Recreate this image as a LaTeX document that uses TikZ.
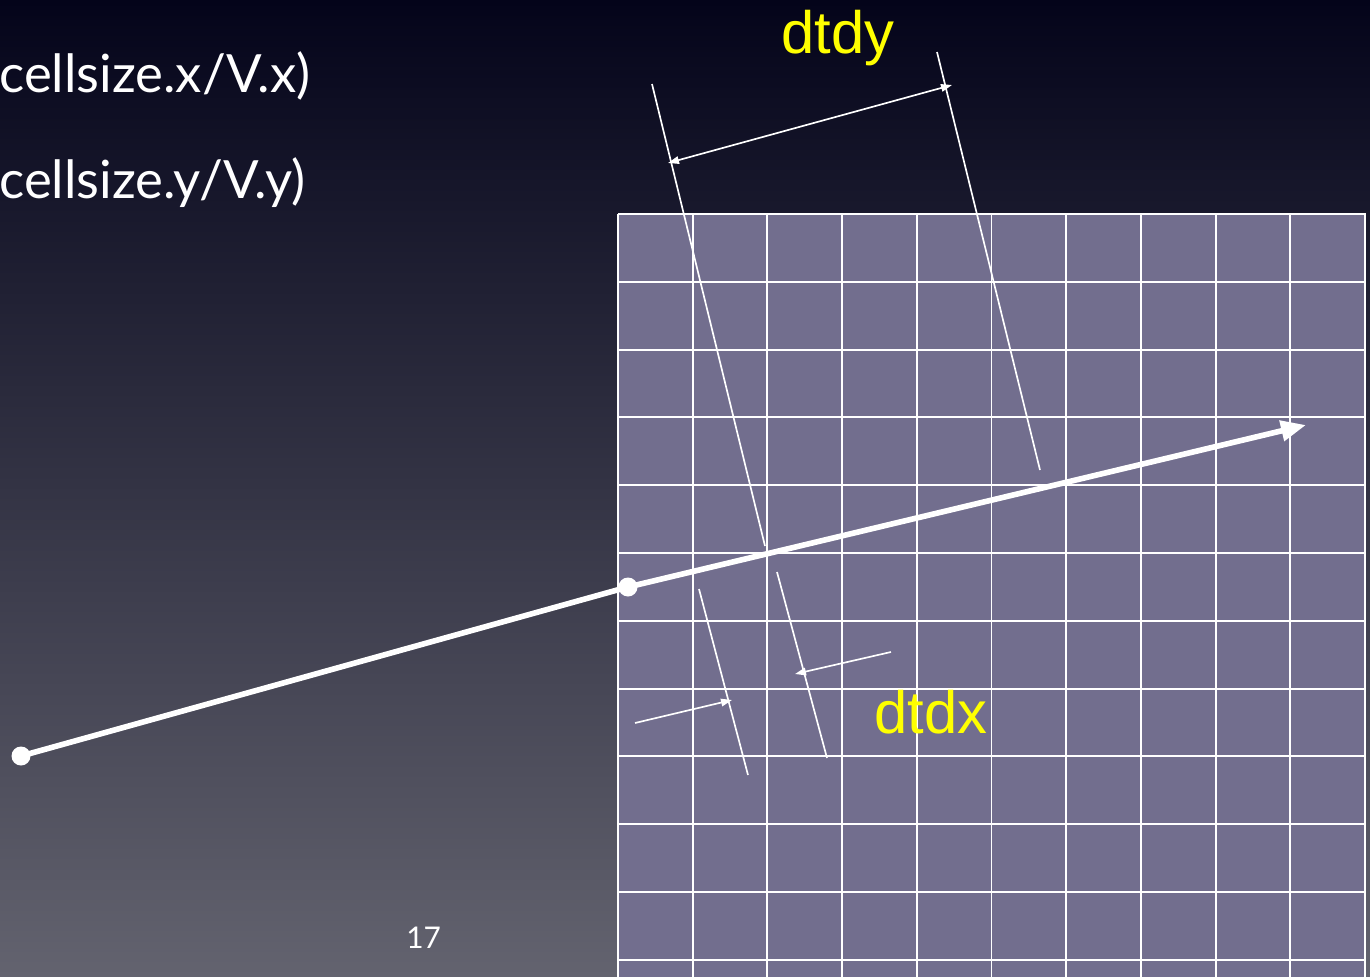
\documentclass[tikz,border=0pt]{standalone}
\usepackage{fontspec}
\setmainfont{Liberation Sans}
\newfontfamily\slidefont{Lato}
\usepackage{tikz}
\usetikzlibrary{arrows.meta,calc}
\definecolor{skytop}{HTML}{04041A}
\definecolor{skymid}{HTML}{32324A}
\definecolor{skybot}{HTML}{63636F}
\definecolor{cellfill}{HTML}{726E8E}
\definecolor{labelyellow}{HTML}{FFFF00}

\begin{document}
\begin{tikzpicture}[x=0.02cm, y=-0.02cm,
    gridline/.style={white, line width=1.1pt},
    extline/.style={white, line width=0.95pt},
    dimline/.style={white, line width=0.95pt},
    dot/.style={circle, fill=white, inner sep=0pt, minimum size=0.38cm},
    ray/.style={white, line width=3.2pt}]
    \useasboundingbox (0,0) rectangle (1370,977);
    \shade[top color=skytop, middle color=skymid, bottom color=skybot] (0,0) rectangle (1370,977);

    % Draw cell grid
    \fill[cellfill] (618,214) rectangle (1366,977);
    \foreach \i in {0,...,10}
        \draw[gridline] ({618+74.7*\i},214) -- ({618+74.7*\i},977);
    \foreach \j in {0,...,11}
        \draw[gridline] (618,{214+67.8*\j}) -- (1366,{214+67.8*\j});

    % Slide text
    \node[anchor=base west, white, font=\slidefont\fontsize{30}{36}\selectfont, inner sep=0pt] (tx) at (-1,92) {cellsize.x/V.x)};
    \node[anchor=base west, white, font=\slidefont\fontsize{30}{36}\selectfont, inner sep=0pt] (ty) at (-1,198) {cellsize.y/V.y)};
    \node[anchor=base west, white, font=\slidefont\fontsize{17}{20}\selectfont, inner sep=0pt] (page) at (406,948) {17};

    % Extension lines
    \coordinate (ya1) at (652,84);  \coordinate (ya2) at (765,546);
    \coordinate (yb1) at (937,52);  \coordinate (yb2) at (1040,470);
    \coordinate (xa1) at (699,589); \coordinate (xa2) at (748,775);
    \coordinate (xb1) at (777,572); \coordinate (xb2) at (827,758);
    \draw[extline] (ya1) -- (ya2);
    \draw[extline] (yb1) -- (yb2);
    \draw[extline] (xa1) -- (xa2);
    \draw[extline] (xb1) -- (xb2);

    % Dimension arrows
    \coordinate (dyl) at (668,163); \coordinate (dyr) at (952,85);
    \draw[dimline, {Triangle[length=0.22cm,width=0.15cm]}-{Triangle[length=0.22cm,width=0.15cm]}] (dyl) -- (dyr);
    \coordinate (dxa) at (635,723); \coordinate (dxat) at (732,700);
    \coordinate (dxb) at (891,652); \coordinate (dxbt) at (795,674);
    \draw[dimline, -{Triangle[length=0.22cm,width=0.15cm]}] (dxa) -- (dxat);
    \draw[dimline, -{Triangle[length=0.22cm,width=0.15cm]}] (dxb) -- (dxbt);

    % Draw ray
    \node[dot] (origin) at (21,756) {};
    \node[dot] (entry) at (628,587) {};
    \coordinate (tip) at (1306,425);
    \draw[ray] (origin.center) -- (entry.center);
    \draw[ray, -{Triangle[length=0.5cm,width=0.4cm]}] (entry.center) -- (tip);

    % Labels
    \node[anchor=base west, labelyellow, font=\fontsize{34}{40}\selectfont, inner sep=0pt] (dtdy) at (781,53) {dtdy};
    \node[anchor=base west, labelyellow, font=\fontsize{34}{40}\selectfont, inner sep=0pt] (dtdx) at (874,733) {dtdx};
\end{tikzpicture}
\end{document}
